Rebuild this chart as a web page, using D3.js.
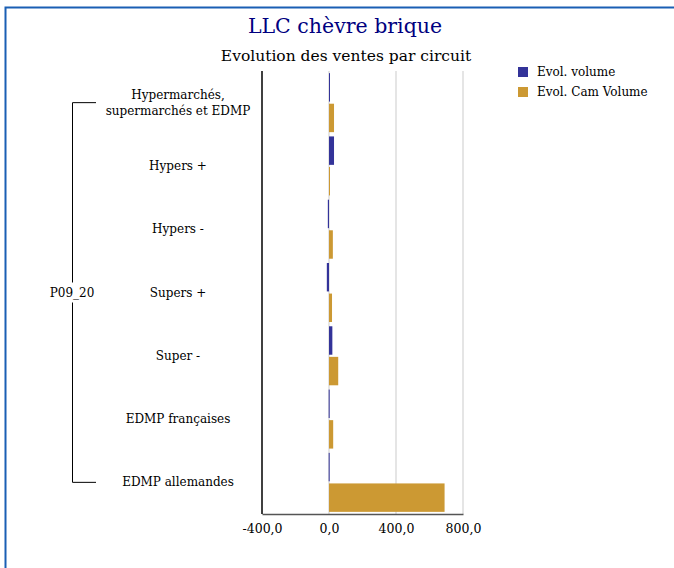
<!DOCTYPE html>
<html>
<head>
<meta charset="utf-8">
<script src="https://cdn.jsdelivr.net/npm/d3@7"></script>
<style>
  body { margin: 0; background: #fff; }
  svg { display: block; font-family: "DejaVu Serif", serif; }
</style>
</head>
<body>
<svg id="chart" width="674" height="568"></svg>
<script>
// Chart data.
var categories = [
  'Hypermarchés,\nsupermarchés et EDMP',
  'Hypers +',
  'Hypers -',
  'Supers +',
  'Super -',
  'EDMP françaises',
  'EDMP allemandes'
];
var seriesNames = ['Evol. volume', 'Evol. Cam Volume'];
var evolVolume = [3, 30, -7, -13, 20, -2, -2];
var evolCamVolume = [30, 3, 23, 18, 55, 25, 690];
var tickValues = [-400, 0, 400, 800];
var groupLabel = 'P09_20';

var colors = ['#333399', '#cc9933'];

var svg = d3.select('#chart');

// Frame around the whole chart (only top and left edge fall inside the picture).
svg.append('rect')
  .attr('x', 5.5).attr('y', 7.5)
  .attr('width', 700).attr('height', 600)
  .attr('fill', 'none')
  .attr('stroke', '#1a5fb4')
  .attr('stroke-width', 2);

// Titles.
svg.append('text')
  .attr('x', 345).attr('y', 33)
  .attr('text-anchor', 'middle')
  .attr('fill', '#000080')
  .style('font-size', '20.5px')
  .text('LLC chèvre brique');
svg.append('text')
  .attr('x', 346).attr('y', 61)
  .attr('text-anchor', 'middle')
  .attr('fill', '#000')
  .style('font-size', '15.5px')
  .text('Evolution des ventes par circuit');

// Scales.
var x = d3.scaleLinear()
  .domain([-400, 800])
  .range([262, 463]);

var y0 = d3.scaleBand()
  .domain(d3.range(categories.length))
  .range([71, 514]);

var y1 = d3.scaleBand()
  .domain([0, 1])
  .range([0, y0.bandwidth()])
  .paddingInner(0.07)
  .paddingOuter(0.07);

// Grid lines.
svg.append('g')
  .selectAll('line')
  .data(tickValues.filter(function(d) { return d != -400; }))
  .enter().append('line')
    .attr('x1', function(d) { return x(d); })
    .attr('x2', function(d) { return x(d); })
    .attr('y1', 71).attr('y2', 514)
    .attr('stroke', '#dddddd')
    .attr('stroke-width', 1.5);

// Bars.
var series = [evolVolume, evolCamVolume];
var groups = svg.append('g')
  .selectAll('g')
  .data(categories)
  .enter().append('g')
    .attr('transform', function(d, i) { return 'translate(0,' + y0(i) + ')'; });

groups.selectAll('rect')
  .data(function(d, i) { return series.map(function(s, k) { return { k: k, v: s[i] }; }); })
  .enter().append('rect')
    .attr('x', function(d) { return x(Math.min(0, d.v)); })
    .attr('width', function(d) { return Math.max(1, Math.abs(x(d.v) - x(0))); })
    .attr('y', function(d) { return y1(d.k); })
    .attr('height', y1.bandwidth())
    .attr('fill', function(d) { return colors[d.k]; });

// Axes.
var xAxis = svg.append('g')
  .attr('transform', 'translate(0,514)')
  .call(d3.axisBottom(x)
    .tickValues(tickValues)
    .tickSize(0)
    .tickPadding(10)
    .tickFormat(function(d) { return d3.format('.1f')(d).replace('.', ',').replace('\u2212', '-'); }));
xAxis.select('.domain').attr('stroke', '#555').attr('stroke-width', 1.5);
xAxis.selectAll('text')
  .style('font-family', '"DejaVu Serif", serif')
  .style('font-size', '12.5px')
  .attr('fill', '#000');

svg.append('line')
  .attr('x1', 262).attr('x2', 262)
  .attr('y1', 71).attr('y2', 514)
  .attr('stroke', '#000')
  .attr('stroke-width', 1.5);

// Category labels.
var labels = svg.append('g')
  .selectAll('text')
  .data(categories)
  .enter().append('text')
    .attr('text-anchor', 'middle')
    .attr('fill', '#000')
    .style('font-size', '12px')
    .attr('transform', function(d, i) { return 'translate(178,' + (y0(i) + y0.bandwidth() / 2) + ')'; });

labels.each(function(d) {
  var lines = d.split('\n');
  var t = d3.select(this);
  lines.forEach(function(line, j) {
    t.append('tspan')
      .attr('x', 0)
      .attr('y', (j - (lines.length - 1) / 2) * 16 + 4)
      .text(line);
  });
});

// Group bracket with its label.
var first = y0(0) + y0.bandwidth() / 2;
var last = y0(categories.length - 1) + y0.bandwidth() / 2;
var mid = (first + last) / 2;
var bracket = svg.append('g')
  .attr('fill', 'none')
  .attr('stroke', '#000')
  .attr('stroke-width', 1);
bracket.append('path')
  .attr('d', 'M96,' + first + 'H72.5V' + (mid - 10));
bracket.append('path')
  .attr('d', 'M72.5,' + (mid + 10) + 'V' + last + 'H96');
svg.append('text')
  .attr('x', 72).attr('y', mid + 4)
  .attr('text-anchor', 'middle')
  .style('font-size', '12px')
  .text(groupLabel);

// Legend.
var legend = svg.append('g')
  .selectAll('g')
  .data(seriesNames)
  .enter().append('g')
    .attr('transform', function(d, i) { return 'translate(518,' + (67 + i * 20) + ')'; });
legend.append('rect')
  .attr('width', 10).attr('height', 10)
  .attr('fill', function(d, i) { return colors[i]; });
legend.append('text')
  .attr('x', 19).attr('y', 9)
  .style('font-size', '12px')
  .text(function(d) { return d; });
</script>
</body>
</html>
